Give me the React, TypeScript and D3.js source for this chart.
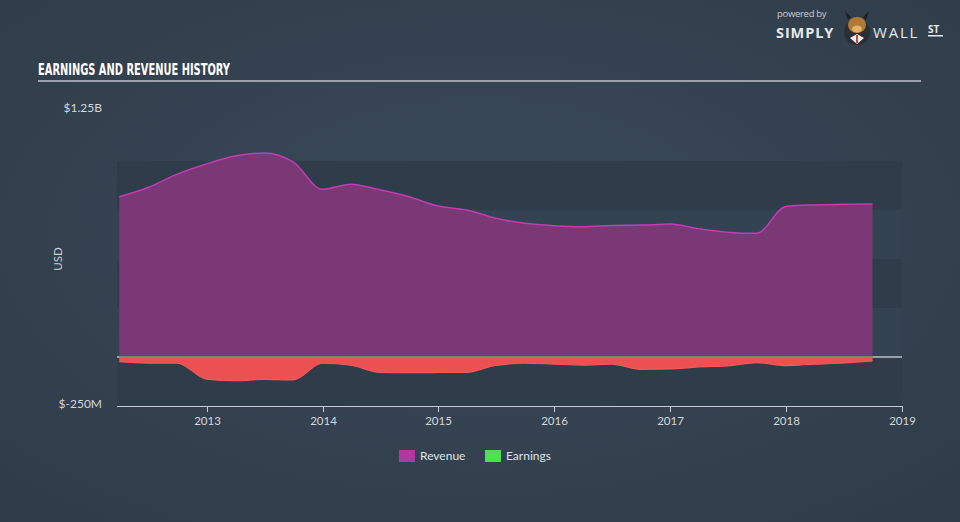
import React from "react";
import * as d3 from "d3";

const W = 960;
const H = 522;

const dates = [
  "2012-03-31", "2012-06-30", "2012-09-30", "2012-12-31",
  "2013-03-31", "2013-06-30", "2013-09-30", "2013-12-31",
  "2014-03-31", "2014-06-30", "2014-09-30", "2014-12-31",
  "2015-03-31", "2015-06-30", "2015-09-30", "2015-12-31",
  "2016-03-31", "2016-06-30", "2016-09-30", "2016-12-31",
  "2017-03-31", "2017-06-30", "2017-09-30", "2017-12-31",
  "2018-03-31", "2018-06-30", "2018-09-30",
];

// values in USD billions
const revenue = [
  0.818, 0.865, 0.933, 0.985,
  1.025, 1.041, 0.995, 0.856,
  0.882, 0.853, 0.818, 0.770,
  0.750, 0.708, 0.682, 0.670,
  0.665, 0.671, 0.673, 0.678,
  0.655, 0.637, 0.631, 0.768,
  0.776, 0.779, 0.781,
];

const earnings = [
  -0.024, -0.031, -0.031, -0.113,
  -0.121, -0.114, -0.117, -0.032,
  -0.042, -0.078, -0.080, -0.079,
  -0.078, -0.043, -0.032, -0.036,
  -0.041, -0.036, -0.063, -0.061,
  -0.050, -0.045, -0.029, -0.044,
  -0.036, -0.030, -0.020,
];

const xTickYears = [2013, 2014, 2015, 2016, 2017, 2018, 2019];
const yLabels = [
  { v: 1.25, t: "$1.25B" },
  { v: -0.25, t: "$-250M" },
];
const bandEdges = [1.0, 0.75, 0.5, 0.25, 0, -0.25];

const legendItems = [
  { name: "Revenue", color: "#b0399f" },
  { name: "Earnings", color: "#4fe04f" },
];

export default function App() {
  const parse = d3.utcParse("%Y-%m-%d");
  const data = dates.map((d, i) => ({
    date: parse(d) as Date,
    rev: revenue[i],
    earn: earnings[i],
  }));

  const x = d3
    .scaleUtc()
    .domain([new Date(Date.UTC(2012, 2, 24)), new Date(Date.UTC(2019, 0, 1))])
    .range([117, 902]);
  const y = d3.scaleLinear().domain([-0.25, 1.25]).range([406, 112]);

  const curve = d3.curveMonotoneX;
  const revArea = d3
    .area<any>()
    .x((d) => x(d.date))
    .y0(y(0))
    .y1((d) => y(d.rev))
    .curve(curve);
  const revLine = d3
    .line<any>()
    .x((d) => x(d.date))
    .y((d) => y(d.rev))
    .curve(curve);
  const earnArea = d3
    .area<any>()
    .x((d) => x(d.date))
    .y0(y(0))
    .y1((d) => y(d.earn))
    .curve(curve);
  const earnLine = d3
    .line<any>()
    .x((d) => x(d.date))
    .y((d) => y(d.earn))
    .curve(curve);

  const [x0, x1] = x.range();
  const firstX = x(data[0].date);
  const lastX = x(data[data.length - 1].date);

  const bandColors = ["#2f3d4b", "#344352", "#2f3d4b", "#344352", "#2f3d4b"];

  const tickFont = "Lato, 'Open Sans', sans-serif";

  return (
    <svg width={W} height={H} style={{ position: "absolute", left: 0, top: 0 }}>
      <defs>
        <radialGradient id="bg" cx="50%" cy="45%" r="75%">
          <stop offset="0%" stopColor="#3a4a5a" />
          <stop offset="100%" stopColor="#2f3b48" />
        </radialGradient>
      </defs>
      <rect x={0} y={0} width={W} height={H} fill="url(#bg)" />

      {/* Title */}
      <text
        x={38}
        y={75}
        fill="#ffffff"
        fontFamily="'Liberation Sans Narrow', 'DejaVu Sans Condensed', sans-serif"
        fontWeight="bold"
        fontSize={16}
        textLength={192}
        lengthAdjust="spacingAndGlyphs"
      >
        EARNINGS AND REVENUE HISTORY
      </text>
      <rect x={38} y={80} width={883} height={2} fill="#9aa3ad" />

      {/* Logo */}
      <g fontFamily="'Open Sans', sans-serif">
        <text x={777} y={17} fill="#c8cdd2" fontSize={9.5} letterSpacing={-0.3}>
          powered by
        </text>
        <text x={776} y={38} fill="#e6e9ec" fontSize={14.5} fontWeight="bold" letterSpacing={0.9}>
          SIMPLY
        </text>
        <circle cx={857} cy={32} r={13} fill="#2a2f36" />
        <ellipse cx={857} cy={25} rx={9} ry={8} fill="#b07a35" />
        <ellipse cx={857} cy={29} rx={5} ry={3.5} fill="#e2b26a" />
        <path d="M848,20 L845,11 L851,17 Z M866,20 L869,11 L863,17 Z" fill="#1e1e1e" />
        <path d="M850,38 L857,34 L864,38 L857,44 Z" fill="#f0f0f0" />
        <rect x={856} y={35} width={2} height={8} fill="#d4402a" />
        <text x={873} y={38} fill="#e6e9ec" fontSize={15} letterSpacing={1.8}>
          WALL
        </text>
        <text x={928} y={33} fill="#e6e9ec" fontSize={10} fontWeight="bold">
          ST
        </text>
        <rect x={928} y={35} width={15} height={1.5} fill="#e6e9ec" />
      </g>

      {/* Bands */}
      {bandEdges.slice(0, -1).map((v, i) => (
        <rect
          key={i}
          x={x0}
          y={y(v)}
          width={x1 - x0}
          height={y(bandEdges[i + 1]) - y(v)}
          fill={bandColors[i]}
        />
      ))}

      {/* zero line */}
      <line x1={x0} x2={x1} y1={y(0)} y2={y(0)} stroke="#ffffff" strokeWidth={1.2} />

      {/* Revenue */}
      <path d={revArea(data) || ""} fill="#7a3875" />
      <path d={revLine(data) || ""} fill="none" stroke="#c23cb2" strokeWidth={1.5} />

      {/* Earnings */}
      <path d={earnArea(data) || ""} fill="#ec5050" />
      <path d={earnLine(data) || ""} fill="none" stroke="#f25a5a" strokeWidth={1.2} />
      <line
        x1={firstX}
        x2={lastX}
        y1={y(0)}
        y2={y(0)}
        stroke="#5fa84f"
        strokeWidth={1.5}
      />

      {/* X axis */}
      <line x1={x0} x2={x1} y1={406.5} y2={406.5} stroke="#c4cad1" strokeWidth={1} />
      {xTickYears.map((yr) => {
        const px = Math.round(x(new Date(Date.UTC(yr, 0, 1)))) + 0.5;
        return (
          <g key={yr}>
            <line x1={px} x2={px} y1={406} y2={412} stroke="#c4cad1" strokeWidth={1} />
            <text
              x={px}
              y={425}
              textAnchor="middle"
              fill="#d4d8dd"
              fontFamily={tickFont}
              fontSize={11.5}
            >
              {yr}
            </text>
          </g>
        );
      })}

      {/* Y labels */}
      {yLabels.map((l) => (
        <text
          key={l.t}
          x={102}
          y={y(l.v) + (l.v > 0 ? 0 : 2)}
          textAnchor="end"
          fill="#d4d8dd"
          fontFamily={tickFont}
          fontSize={12}
        >
          {l.t}
        </text>
      ))}
      <text
        transform={`translate(62, ${(y(1.25) + 406) / 2}) rotate(-90)`}
        textAnchor="middle"
        fill="#c8cdd2"
        fontFamily={tickFont}
        fontSize={11.5}
      >
        USD
      </text>

      {/* Legend */}
      {legendItems.map((it, i) => {
        const lx = 399 + i * 86;
        return (
          <g key={it.name}>
            <rect x={lx} y={450} width={16} height={12} fill={it.color} />
            <text
              x={lx + 21}
              y={460}
              fill="#dfe3e7"
              fontFamily={tickFont}
              fontSize={12}
            >
              {it.name}
            </text>
          </g>
        );
      })}
    </svg>
  );
}
